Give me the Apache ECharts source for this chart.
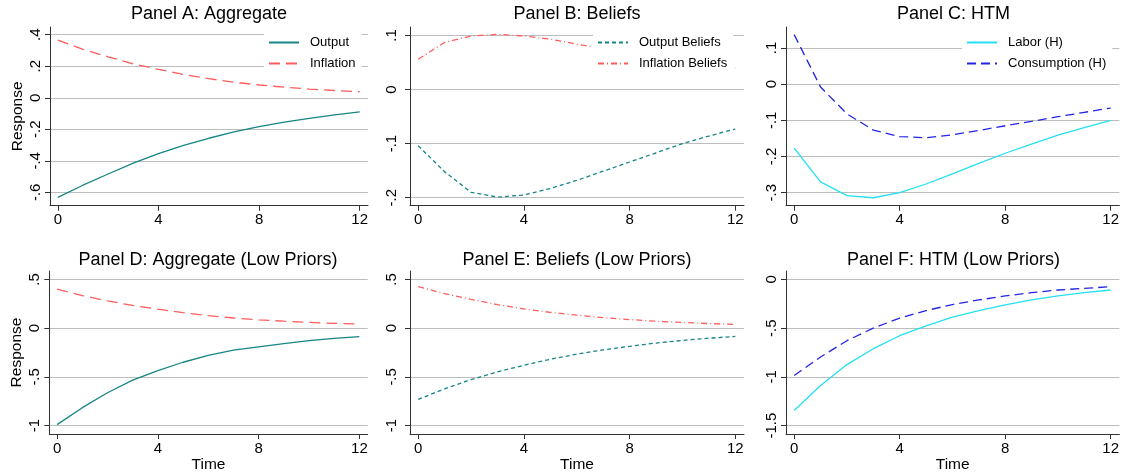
<!DOCTYPE html>
<html>
<head>
<meta charset="utf-8">
<script src="https://cdn.jsdelivr.net/npm/echarts@6/dist/echarts.min.js"></script>
<style>
  html, body { margin: 0; padding: 0; background: #fff; }
  #container { width: 1122px; height: 474px; }
</style>
</head>
<body>
<div id="container"></div>
<script>
var dom = document.getElementById("container");
var myChart = echarts.init(dom, null, { renderer: "canvas" });

const periods = [0, 1, 2, 3, 4, 5, 6, 7, 8, 9, 10, 11, 12];
const timeTicks = [0, 4, 8, 12];

// Panel A: Aggregate
const outputA = [-0.632, -0.555, -0.484, -0.415, -0.355, -0.302, -0.257, -0.217, -0.183, -0.155, -0.131, -0.108, -0.089];
const inflationA = [0.366, 0.307, 0.26, 0.215, 0.18, 0.148, 0.121, 0.099, 0.081, 0.067, 0.055, 0.046, 0.038];
// Panel B: Beliefs
const outputBeliefsB = [-0.104, -0.152, -0.19, -0.199, -0.195, -0.183, -0.168, -0.151, -0.134, -0.117, -0.1, -0.086, -0.073];
const inflationBeliefsB = [0.056, 0.087, 0.099, 0.102, 0.099, 0.093, 0.084, 0.075, 0.066, 0.058, 0.051, 0.045, 0.04];
// Panel C: HTM
const laborC = [-0.177, -0.27, -0.308, -0.314, -0.3, -0.276, -0.248, -0.219, -0.191, -0.166, -0.141, -0.12, -0.1];
const consumptionC = [0.137, -0.008, -0.082, -0.127, -0.145, -0.148, -0.14, -0.128, -0.115, -0.103, -0.09, -0.078, -0.066];
// Panel D: Aggregate (Low Priors)
const outputD = [-0.99, -0.816, -0.663, -0.534, -0.435, -0.35, -0.279, -0.226, -0.192, -0.16, -0.129, -0.105, -0.088];
const inflationD = [0.401, 0.334, 0.279, 0.233, 0.194, 0.158, 0.128, 0.104, 0.085, 0.071, 0.059, 0.049, 0.041];
// Panel E: Beliefs (Low Priors)
const outputBeliefsE = [-0.731, -0.622, -0.528, -0.449, -0.381, -0.319, -0.267, -0.223, -0.187, -0.153, -0.126, -0.103, -0.085];
const inflationBeliefsE = [0.425, 0.354, 0.295, 0.241, 0.197, 0.162, 0.133, 0.108, 0.088, 0.071, 0.058, 0.047, 0.037];
// Panel F: HTM (Low Priors)
const laborF = [-1.344, -1.088, -0.874, -0.711, -0.578, -0.476, -0.388, -0.32, -0.262, -0.211, -0.17, -0.136, -0.109];
const consumptionF = [-0.986, -0.796, -0.629, -0.5, -0.398, -0.32, -0.258, -0.211, -0.17, -0.136, -0.109, -0.092, -0.075];

const ticksA = [-0.6, -0.4, -0.2, 0, 0.2, 0.4];
const ticksB = [-0.2, -0.1, 0, 0.1];
const ticksC = [-0.3, -0.2, -0.1, 0, 0.1];
const ticksD = [-1, -0.5, 0, 0.5];
const ticksE = [-1, -0.5, 0, 0.5];
const ticksF = [-1.5, -1, -0.5, 0];

const titles = [
  "Panel A: Aggregate", "Panel B: Beliefs", "Panel C: HTM",
  "Panel D: Aggregate (Low Priors)", "Panel E: Beliefs (Low Priors)", "Panel F: HTM (Low Priors)"
];

const teal = "#168585";
const red = "#ff5c5c";
const cyan = "#22e0f2";
const blue = "#2424e6";
const font = "Liberation Sans";

// plot areas
const grids = [
  { left: 50, top: 27, width: 318, height: 178.7 },
  { left: 410, top: 27, width: 334, height: 178.7 },
  { left: 786, top: 27, width: 335, height: 178.7 },
  { left: 49.3, top: 271, width: 318.4, height: 163.7 },
  { left: 410, top: 271, width: 334, height: 163.7 },
  { left: 786, top: 271, width: 335, height: 163.7 },
];
const yRanges = [[-0.685, 0.449], [-0.2148, 0.1156], [-0.336, 0.158], [-1.086, 0.586], [-1.086, 0.586], [-1.586, 0.086]];
const yTicks = [ticksA, ticksB, ticksC, ticksD, ticksE, ticksF];
const yMargins = [7, 11, 6.5, 7, 11, 6.5];

function stataNum(v) {
  let s = String(+(+v).toFixed(3));
  return s.replace(/^(-?)0\./, "$1.");
}

function pairs(vals) {
  return periods.map(function (t, i) {
    return [t, vals[i]];
  });
}

function lineSeries(name, vals, idx, color, dash) {
  return {
    name: name,
    type: "line",
    xAxisIndex: idx,
    yAxisIndex: idx,
    data: pairs(vals),
    symbol: "none",
    smooth: false,
    lineStyle: { color: color, width: 1.3, type: dash },
    itemStyle: { color: color },
    z: 2,
  };
}

const xAxes = grids.map(function (g, i) {
  return {
    type: "value",
    gridIndex: i,
    min: -0.31,
    max: 12.33,
    name: i >= 3 ? "Time" : "",
    nameLocation: "middle",
    nameGap: 23,
    nameTextStyle: { fontFamily: font, fontSize: 15.5, color: "#000" },
    axisLine: { show: true, onZero: false, lineStyle: { color: "#333", width: 1 } },
    axisTick: { show: true, length: 5, customValues: timeTicks, lineStyle: { color: "#333" } },
    axisLabel: {
      customValues: timeTicks,
      margin: 7,
      fontFamily: font,
      fontSize: 15,
      color: "#000",
    },
    splitLine: { show: false },
  };
});

const yAxes = grids.map(function (g, i) {
  return {
    type: "value",
    gridIndex: i,
    min: yRanges[i][0],
    max: yRanges[i][1],
    name: i === 0 || i === 3 ? "Response" : "",
    nameLocation: "middle",
    nameRotate: 90,
    nameGap: 24.5,
    nameTextStyle: { fontFamily: font, fontSize: 15.5, color: "#000" },
    axisLine: { show: true, onZero: false, lineStyle: { color: "#333", width: 1 } },
    axisTick: { show: true, length: 5, customValues: yTicks[i], lineStyle: { color: "#333" } },
    axisLabel: {
      customValues: yTicks[i],
      rotate: 90,
      margin: yMargins[i],
      fontFamily: font,
      fontSize: 15,
      color: "#000",
      formatter: stataNum,
    },
    splitLine: { show: true, lineStyle: { color: "#bdbdbd", width: 1 } },
  };
});

const titleCenters = [[209, 5.5], [577, 5.5], [953.5, 5.5], [208, 251], [577, 251], [953.5, 251]];

const legendBase = {
  orient: "vertical",
  top: 31,
  padding: [5, 6, 6, 4],
  itemWidth: 30,
  itemHeight: 14,
  itemGap: 8,
  backgroundColor: "#fff",
  selectedMode: false,
  itemStyle: { opacity: 0 },
  textStyle: { fontFamily: font, fontSize: 13, color: "#000", padding: [0, 0, 0, 6] },
  z: 5,
};

option = {
  animation: false,
  backgroundColor: "#fff",
  title: titles.map(function (t, i) {
    return {
      text: t,
      left: titleCenters[i][0],
      top: titleCenters[i][1],
      textAlign: "center",
      padding: 0,
      textStyle: { fontFamily: font, fontSize: 18, fontWeight: "normal", color: "#000" },
    };
  }),
  legend: [
    Object.assign({}, legendBase, { left: 264, data: ["Output", "Inflation"] }),
    Object.assign({}, legendBase, { left: 593, data: ["Output Beliefs", "Inflation Beliefs"] }),
    Object.assign({}, legendBase, { left: 962, data: ["Labor (H)", "Consumption (H)"] }),
  ],
  grid: grids,
  xAxis: xAxes,
  yAxis: yAxes,
  series: [
    lineSeries("Output", outputA, 0, teal, "solid"),
    lineSeries("Inflation", inflationA, 0, red, [11, 6]),
    lineSeries("Output Beliefs", outputBeliefsB, 1, teal, [4, 3]),
    lineSeries("Inflation Beliefs", inflationBeliefsB, 1, red, [6, 3, 1, 3]),
    lineSeries("Labor (H)", laborC, 2, cyan, "solid"),
    lineSeries("Consumption (H)", consumptionC, 2, blue, [9, 5]),
    lineSeries("Output", outputD, 3, teal, "solid"),
    lineSeries("Inflation", inflationD, 3, red, [11, 6]),
    lineSeries("Output Beliefs", outputBeliefsE, 4, teal, [4, 3]),
    lineSeries("Inflation Beliefs", inflationBeliefsE, 4, red, [6, 3, 1, 3]),
    lineSeries("Labor (H)", laborF, 5, cyan, "solid"),
    lineSeries("Consumption (H)", consumptionF, 5, blue, [9, 5]),
  ],
};

myChart.setOption(option);
window.addEventListener("resize", myChart.resize);
</script>
</body>
</html>
